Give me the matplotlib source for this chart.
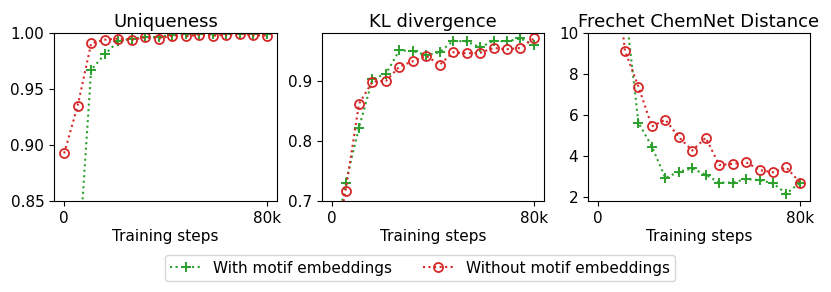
import numpy as np
import matplotlib
matplotlib.use("Agg")
import matplotlib.pyplot as plt

# training steps (16 checkpoints between 0 and 80k)
steps = np.linspace(0, 80000, 16)

# Uniqueness
uniq_with = [0.50, 0.785, 0.967, 0.981, 0.9925, 0.995, 0.9964, 0.9964, 0.9985, 0.999,
             0.999, 0.999, 0.999, 0.9992, 0.999, 0.999]
uniq_without = [0.8925, 0.935, 0.9907, 0.994, 0.995, 0.994, 0.996, 0.995, 0.9976, 0.997,
                0.9985, 0.9976, 0.9985, 0.9994, 0.998, 0.9976]

# KL divergence
kl_with = [0.61, 0.730, 0.822, 0.903, 0.912, 0.951, 0.950, 0.943, 0.948, 0.967,
           0.966, 0.956, 0.967, 0.966, 0.971, 0.960]
kl_without = [0.60, 0.716, 0.862, 0.899, 0.900, 0.924, 0.933, 0.942, 0.927, 0.948,
              0.946, 0.947, 0.955, 0.953, 0.955, 0.971]

# Frechet ChemNet Distance
fcd_with = [30.0, 20.0, 11.4, 5.62, 4.46, 2.92, 3.23, 3.39, 3.08, 2.70,
            2.70, 2.87, 2.82, 2.66, 2.16, 2.70]
fcd_without = [30.0, 14.8, 9.13, 7.38, 5.44, 5.77, 4.92, 4.26, 4.89, 3.56,
               3.61, 3.69, 3.31, 3.20, 3.44, 2.70]

titles = ["Uniqueness", "KL divergence", "Frechet ChemNet Distance"]
series = [(uniq_with, uniq_without), (kl_with, kl_without), (fcd_with, fcd_without)]
ylims = [(0.85, 1.0), (0.7, 0.98), (1.8, 10)]
yticks = [[0.85, 0.90, 0.95, 1.00], [0.7, 0.8, 0.9], [2, 4, 6, 8, 10]]
yfmt = ["%.2f", "%.1f", "%d"]

W, H = 831, 292
fig = plt.figure(figsize=(W / 100, H / 100), dpi=100)

# axes boxes in pixels: left, right, top, bottom
boxes = [(54, 277, 33, 201), (322, 544, 33, 201), (588, 810, 33, 201)]

for i in range(3):
    l, r, t, b = boxes[i]
    ax = fig.add_axes([l / W, 1 - b / H, (r - l) / W, (b - t) / H])
    w, wo = series[i]
    ax.plot(steps, w, ':', color='tab:green', marker='+', markersize=6.5,
            markeredgewidth=1.4, label='With motif embeddings')
    ax.plot(steps, wo, ':', color='tab:red', marker='o', markersize=6.5,
            markerfacecolor='none', markeredgewidth=1.3, label='Without motif embeddings')
    ax.set_ylim(*ylims[i])
    ax.set_yticks(yticks[i])
    ax.set_yticklabels([yfmt[i] % v for v in yticks[i]])
    ax.set_xticks([0, 80000])
    ax.set_xticklabels(["0", "80k"])
    ax.tick_params(labelsize=11)
    ax.set_title(titles[i], fontsize=13, pad=4)
    ax.set_xlabel("Training steps", fontsize=11, labelpad=2)
    if i == 0:
        handles, labels = ax.get_legend_handles_labels()

fig.legend(handles, labels, loc='center', bbox_to_anchor=(420 / W, 1 - 268 / H),
           ncol=2, fontsize=11, handlelength=2.0, columnspacing=2.0,
           borderpad=0.35)

fig.savefig("out.png", dpi=100)
